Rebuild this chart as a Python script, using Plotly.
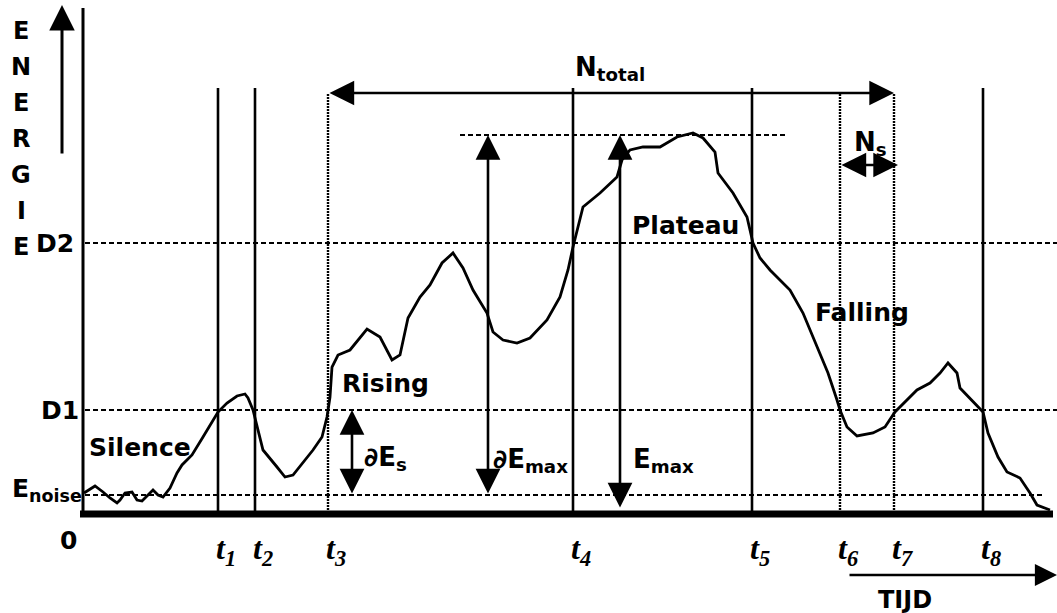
import plotly.graph_objects as go

# ---------------- data (time units, energy units) ----------------
time = [1, 12, 20, 27, 34, 37, 42, 49, 54, 59,
        65, 70, 75, 80, 87, 94, 99, 109, 120, 130,
        135, 144, 154, 162, 165, 170, 175, 180, 194, 202,
        210, 220, 230, 239, 244, 247, 249, 255, 267, 284,
        297, 309, 317, 325, 337, 347, 359, 370, 380, 390,
        404, 410, 420, 434, 447, 464, 477, 485, 490, 500,
        517, 534, 539, 547, 560, 577, 594, 610, 620, 632,
        635, 650, 664, 670, 677, 687, 707, 720, 727, 734,
        745, 754, 757, 764, 774, 790, 802, 812, 824, 834,
        847, 857, 865, 874, 877, 887, 900, 905, 915, 924,
        937, 947, 954, 967]
energy = [20, 27, 21, 15, 10, 13, 20, 21, 13, 12,
          18, 23, 18, 16, 25, 40, 48, 58, 76, 93,
          101, 110, 117, 119, 115, 103, 83, 63, 46, 36,
          38, 50, 63, 76, 96, 116, 146, 158, 163, 184,
          176, 153, 158, 195, 216, 228, 250, 260, 245, 223,
          200, 181, 173, 170, 175, 193, 216, 243, 266, 306,
          320, 336, 353, 363, 366, 366, 376, 380, 375, 361,
          340, 320, 296, 270, 255, 243, 223, 200, 183, 166,
          140, 113, 103, 86, 77, 80, 86, 101, 113, 123,
          130, 140, 150, 140, 125, 115, 101, 80, 56, 41,
          35, 20, 8, 3]

# thresholds
E_noise = 18
D1 = 103
D2 = 270
E_max = 378

# time markers
t_names = ["1", "2", "3", "4", "5", "6", "7", "8"]
t_vals = [135, 172, 245, 490, 669, 757, 811, 900]
t_dotted = [False, False, True, False, False, True, True, False]

axis_letters = ["E", "N", "E", "R", "G", "I", "E"]

# ---------------- layout helpers ----------------
X0, X1 = -83, 974
Y0, Y1 = -100, 513
TOP_SOLID = 425
TOP_DOT = 420
ARROW_X = {"dEs": 269, "dEmax": 405, "Emax": 537, "energy": -21}

BLACK = "#000000"
FONT = "DejaVu Sans"

fig = go.Figure()
fig.add_trace(go.Scatter(x=time, y=energy, mode="lines",
                         line=dict(color=BLACK, width=2.8),
                         hoverinfo="skip", showlegend=False))

shapes = []
# y axis line
shapes.append(dict(type="line", x0=0, x1=0, y0=0, y1=505,
                   line=dict(color=BLACK, width=3)))
# thick baseline
shapes.append(dict(type="line", x0=-3, x1=970, y0=-1, y1=-1,
                   line=dict(color=BLACK, width=7)))
# horizontal threshold lines
dash_h = "5px,3px"
for lvl, xe in [(D2, 974), (D1, 974), (E_noise, 962)]:
    shapes.append(dict(type="line", x0=2, x1=xe, y0=lvl, y1=lvl,
                       line=dict(color=BLACK, width=2.2, dash=dash_h)))
shapes.append(dict(type="line", x0=377, x1=702, y0=E_max, y1=E_max,
                   line=dict(color=BLACK, width=2.2, dash=dash_h)))
# vertical time markers
for tv, dotted in zip(t_vals, t_dotted):
    if dotted:
        shapes.append(dict(type="line", x0=tv, x1=tv, y0=0, y1=TOP_DOT,
                           line=dict(color=BLACK, width=2.4, dash="2px,1px")))
    else:
        shapes.append(dict(type="line", x0=tv, x1=tv, y0=0, y1=TOP_SOLID,
                           line=dict(color=BLACK, width=2.6)))

annotations = []


def arrow(x_tail, y_tail, x_head, y_head, both=False, size=1.9, width=2.6):
    annotations.append(dict(
        x=x_head, y=y_head, ax=x_tail, ay=y_tail,
        xref="x", yref="y", axref="x", ayref="y",
        text="", showarrow=True, arrowhead=2, startarrowhead=2,
        arrowsize=size, startarrowsize=size, arrowwidth=width,
        arrowcolor=BLACK, arrowside="end+start" if both else "end",
        standoff=0, startstandoff=0))


# Energy axis arrow
arrow(ARROW_X["energy"], 358, ARROW_X["energy"], 508, size=1.7, width=3)
# N_total
arrow(t_vals[2], TOP_DOT, t_vals[6], TOP_DOT, both=True)
# N_s
arrow(t_vals[5], 348, t_vals[6] + 4, 348, both=True)
# dE_max
arrow(ARROW_X["dEmax"], E_noise, ARROW_X["dEmax"], E_max, both=True)
# E_max
arrow(ARROW_X["Emax"], 4, ARROW_X["Emax"], E_max, both=True)
# dE_s
arrow(ARROW_X["dEs"], E_noise, ARROW_X["dEs"], D1, both=True)
# TIJD arrow
arrow(765, -62, 974, -62, size=1.7)


def label(x, y, text, size=25, xanchor="center", family=FONT, italic=False):
    annotations.append(dict(
        x=x, y=y, xref="x", yref="y", text=text, showarrow=False,
        xanchor=xanchor, yanchor="middle",
        font=dict(family=family, size=size, color=BLACK,
                  weight="bold", style="italic" if italic else "normal")))


# ENERGIE vertical letters
for i, ch in enumerate(axis_letters):
    label(-62, 482 - i * 36, ch, size=24)

label(-28, D2, "D2", size=25)
label(-23, D1, "D1", size=25)
label(-36, E_noise + 5, "E<sub>noise</sub>", size=25)
label(-15, -27, "0", size=25)

for name, tv in zip(t_names, t_vals):
    label(tv + 8, -37, "t<sub>" + name + "</sub>", size=32,
          family="Liberation Serif", italic=True)

label(527, 445, "N<sub>total</sub>", size=26)
label(787, 370, "N<sub>s</sub>", size=26)
label(57, 66, "Silence", size=25)
label(302, 130, "Rising", size=25)
label(602, 288, "Plateau", size=25)
label(779, 201, "Falling", size=25)
label(302, 55, "∂E<sub>s</sub>", size=26)
label(447, 53, "∂E<sub>max</sub>", size=26)
label(580, 53, "E<sub>max</sub>", size=26)
label(822, -87, "TIJD", size=24)

fig.update_layout(
    width=1057, height=613,
    margin=dict(l=0, r=0, t=0, b=0, autoexpand=False),
    paper_bgcolor="white", plot_bgcolor="white",
    xaxis=dict(range=[X0, X1], visible=False, fixedrange=True),
    yaxis=dict(range=[Y0, Y1], visible=False, fixedrange=True),
    shapes=shapes, annotations=annotations,
    showlegend=False,
)

fig.write_html(
    "out.html",
    config={"displayModeBar": False},
    post_script="document.body.style.margin='0';"
                "document.body.style.overflow='hidden';",
)
